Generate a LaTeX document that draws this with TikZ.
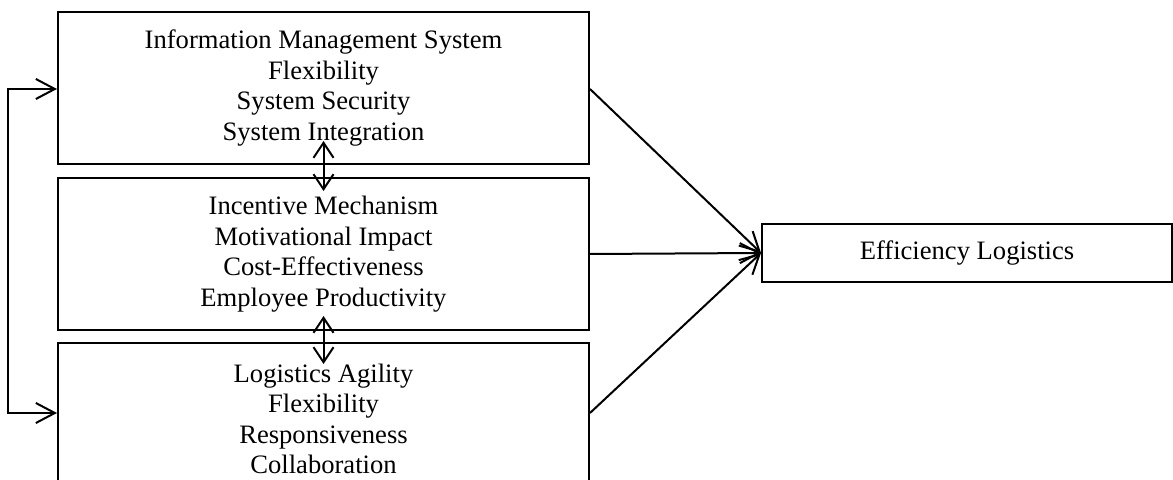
\documentclass[tikz,border=0pt]{standalone}
\usepackage{fontspec}
\setmainfont{Liberation Serif}
\usetikzlibrary{arrows.meta,calc}
\begin{document}
\begin{tikzpicture}[x=0.5pt,y=-0.5pt,
  line width=1pt,
  factor/.style={draw,align=center,minimum width=265.5pt,minimum height=76pt,
    inner sep=0pt,font=\fontsize{13.3}{15.25}\selectfont},
  outcome/.style={draw,minimum width=205pt,minimum height=29pt,inner sep=0pt,
    font=\fontsize{13.3}{15.25}\selectfont},
  barb/.style={-{Straight Barb[length=9.5pt,width=10pt,line width=1pt]}},
  twoway/.style={{Straight Barb[length=7.5pt,width=10pt,line width=1pt]}-{Straight Barb[length=7.5pt,width=10pt,line width=1pt]}},
  sides/.style={{Straight Barb[length=9.5pt,width=10pt,line width=1pt]}-{Straight Barb[length=9.5pt,width=10pt,line width=1pt]}}]
\useasboundingbox (0,0) rectangle (1173,480);

% the three factor boxes
\node[factor] (ims) at (323.5,88) {Information Management System\\Flexibility\\System Security\\System Integration};
\node[factor] (inc) at (323.5,254) {Incentive Mechanism\\Motivational Impact\\Cost-Effectiveness\\Employee Productivity};
\node[factor] (agi) at (323.5,419) {Logistics Agility\\Flexibility\\Responsiveness\\Collaboration};

% outcome
\node[outcome] (eff) at (967,253) {Efficiency Logistics};

% left bracket linking first and last factor
\coordinate (la) at (7.5,89);
\coordinate (lb) at (7.5,413);
\draw[sides] (ims.west |- la) -- (la) -- (lb) -- (agi.west |- lb);

% links between neighbouring factors
\draw[twoway,shorten <=-12pt,shorten >=-7pt] (ims.south) -- (inc.north);
\draw[twoway,shorten <=-7.5pt,shorten >=-11pt] (inc.south) -- (agi.north);

% paths into the outcome
\draw[barb] (ims.east |- la) -- (eff.west);
\draw[barb] (inc.east) -- (eff.west);
\draw[barb] (agi.east |- lb) -- (eff.west);
\end{tikzpicture}
\end{document}
